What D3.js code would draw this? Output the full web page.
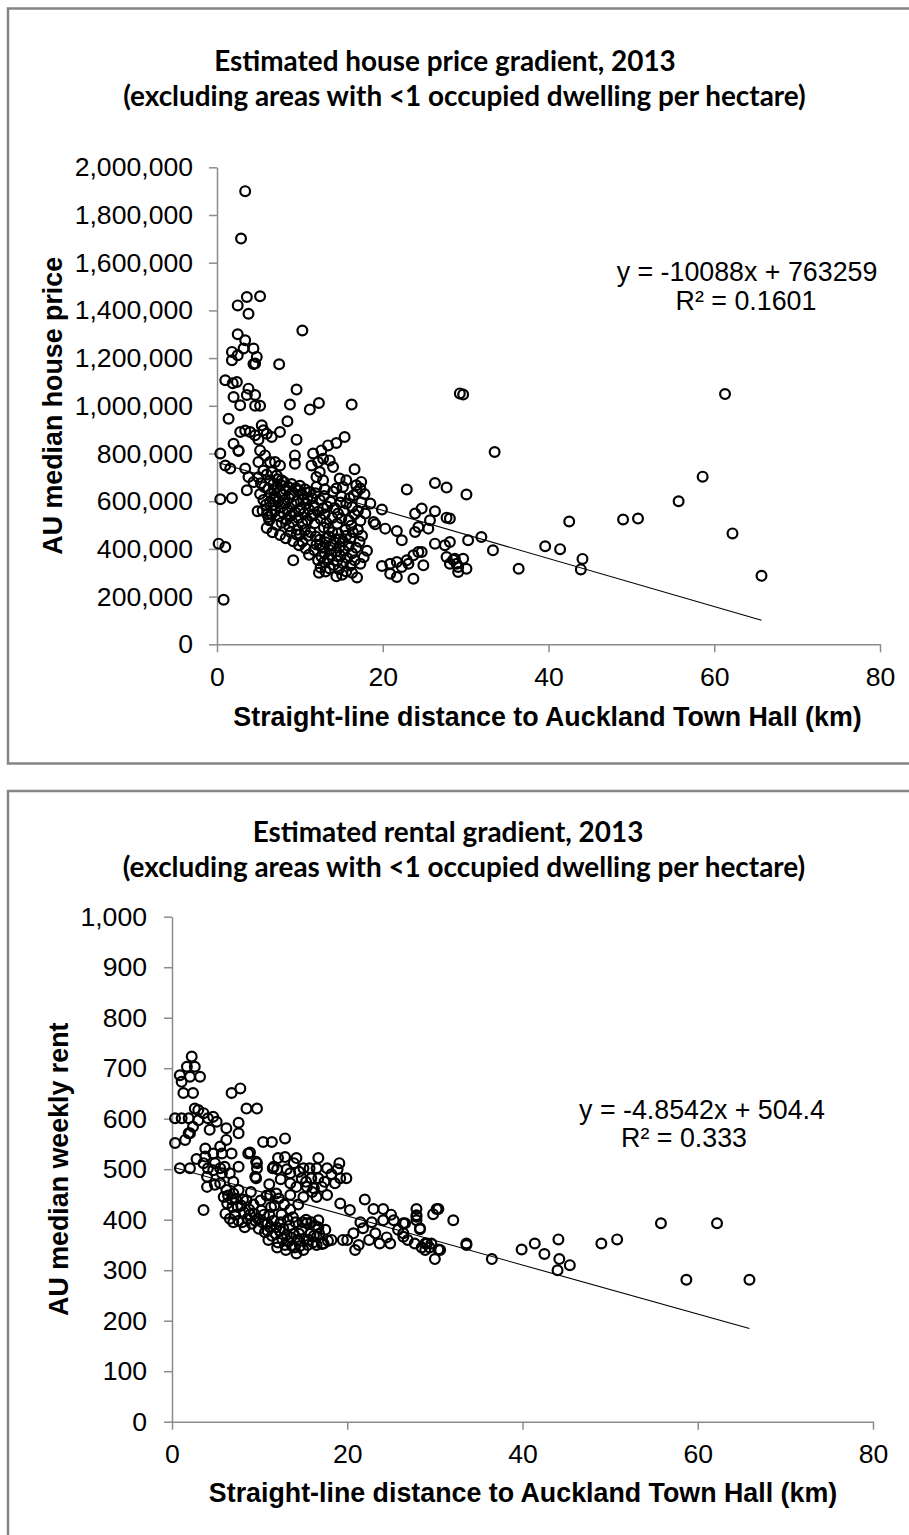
<!DOCTYPE html>
<html>
<head>
<meta charset="utf-8">
<script src="https://cdn.jsdelivr.net/npm/d3@7"></script>
<style>
  body { margin: 0; background: #fff; }
  text { font-family: Arial, "Liberation Sans", sans-serif; fill: #000; }
</style>
</head>
<body>
<script>
const W = 909, H = 1535;

// ---- data ----
// house price chart: [distance km, AU median price in $000]
const housePoints = [
  [3.4,1900],[2.9,1701],[3.6,1456],[5.2,1459],[2.5,1421],[3.8,1386],[2.5,1300],[3.4,1275],[1.8,1226],[4.4,1240],
  [3.2,1240],[2.5,1212],[1.8,1191],[4.8,1205],[4.6,1177],[4.4,1175],[7.5,1174],[1.0,1107],[2.4,1100],[1.9,1095],
  [3.8,1072],[2.0,1037],[3.6,1045],[4.6,1045],[9.6,1068],[2.8,1002],[4.6,1000],[5.2,1000],[8.8,1005],[10.3,1316],
  [11.2,984],[12.3,1012],[16.25,1005],[1.4,946],[0.4,800],[2.0,841],[2.6,813],[1.0,750],[1.6,737],[3.4,737],
  [3.8,701],[4.4,680],[3.6,646],[0.4,608],[1.8,613],[4.9,558],[0.2,422],[1.0,408],[0.8,187],[9.2,352],
  [2.8,890],[3.4,896],[4.0,890],[5.4,918],[5.6,897],[4.6,876],[5.0,858],[6.0,883],[6.6,869],[7.6,890],
  [8.5,935],[9.6,858],[15.4,869],[2.6,810],[5.2,813],[5.8,792],[6.4,764],[7.0,764],[7.6,750],[5.0,764],
  [5.6,729],[6.6,722],[7.2,708],[7.8,688],[9.4,792],[9.4,757],[11.6,800],[12.6,813],[13.4,834],[14.4,844],
  [11.4,750],[12.2,764],[12.8,778],[13.6,771],[14.0,743],[12.4,722],[12.8,688],[12.0,701],[16.6,734],[14.8,695],
  [15.6,688],[17.4,681],[17.3,653],[16.8,667],[15.2,660],[14.4,653],[6.2,534],[18.5,590],[19.9,565],[18.9,513],
  [19.1,503],[20.3,485],[21.7,475],[22.3,436],[22.9,649],[26.3,676],[27.7,657],[30.1,628],[33.5,806],[23.9,548],
  [24.7,569],[26.3,558],[25.7,520],[27.7,531],[24.3,492],[23.9,471],[25.5,485],[26.3,422],[27.5,415],[28.1,429],
  [30.3,436],[31.9,450],[33.3,394],[36.4,317],[39.6,411],[24.3,387],[24.7,387],[23.7,373],[19.9,328],[20.9,338],
  [21.7,345],[22.9,352],[23.1,338],[22.3,324],[20.9,296],[21.7,282],[23.7,275],[24.9,331],[27.7,366],[28.7,359],
  [29.7,359],[28.1,338],[29.1,324],[30.1,317],[29.1,303],[29.3,1052],[29.7,1047],[61.3,1049],[58.6,703],[55.7,600],
  [28.1,527],[42.5,515],[49.0,523],[50.8,527],[62.2,465],[41.4,399],[44.1,358],[43.9,314],[65.7,287],[28.5,354],
  [28.9,338],
  // dense cluster 5-18 km
  [6.2,652],[6.5,630],[6.9,645],[7.3,661],[7.1,618],[6.4,598],[6.8,584],[7.4,600],[7.9,628],[8.3,648],
  [8.7,612],[8.2,590],[7.7,575],[7.0,560],[6.6,545],[6.3,520],[7.5,537],[8.0,552],[8.5,566],[9.0,588],
  [9.3,625],[9.8,646],[10.2,630],[9.6,600],[10.4,606],[10.8,589],[10.1,570],[9.4,555],[8.9,540],[8.4,522],
  [7.8,510],[7.2,500],[9.1,512],[9.8,530],[10.5,548],[11.1,565],[11.5,612],[11.9,633],[12.4,605],[11.7,580],
  [12.2,556],[11.4,538],[10.9,520],[10.3,505],[11.8,508],[12.5,525],[13.0,545],[13.3,578],[13.7,598],[14.2,572],
  [14.6,548],[13.9,530],[13.2,510],[14.5,505],[15.0,528],[15.3,560],[15.6,590],[16.0,612],[16.3,575],[16.6,545],
  [15.9,520],[17.0,560],[17.4,595],[17.8,630],[16.9,640],[17.9,548],[17.3,518],[16.2,498],
  [11.3,470],[11.9,452],[12.4,438],[12.0,418],[12.7,405],[13.1,428],[13.5,452],[13.9,470],[14.3,440],[14.0,415],
  [13.6,395],[13.0,382],[12.6,368],[12.2,352],[12.9,345],[13.4,360],[13.8,375],[14.4,390],[14.8,410],[15.2,432],
  [15.6,455],[16.1,445],[15.9,412],[15.3,392],[14.9,370],[14.5,350],[14.1,332],[13.6,318],[13.1,305],[12.5,322],
  [14.7,315],[15.2,340],[15.7,362],[16.3,382],[16.8,405],[17.2,430],[16.6,352],[16.1,330],[15.6,305],[15.1,292],
  [14.4,285],[16.3,300],[16.9,280],[17.3,338],[17.7,365],[18.1,392],[12.3,300],[11.7,395],[11.1,375],[10.7,402],
  [10.3,430],[10.0,460],[9.7,480],[8.9,470],
  [6.0,488],[6.7,470],[7.6,458],[8.3,445],[9.2,432],[9.9,415],[8.7,495],[9.6,460],
  [5.0,700],[5.3,675],[5.7,660],[6.0,712],[6.4,688],[6.8,672],[7.3,692],[7.7,668],[8.1,680],[8.6,660],
  [9.0,672],[9.5,655],[10.0,665],[5.2,630],[5.6,605],[5.9,585],[5.5,560],[6.1,545],[6.8,610],[7.6,640],
  [8.9,630],[10.6,650],[11.2,640],[12.0,660],[13.0,650],[14.0,640],[15.0,620],[16.5,625],[10.9,610],[12.9,622],
  [14.9,595],[9.9,560],[12.8,570],[11.6,545],[13.5,485],[12.9,490],[10.6,478],[11.0,455],[14.6,465],[15.5,480],
  [16.4,470],[17.5,455],[17.0,480],[13.2,445],[12.4,415],[14.8,440]
];
const houseTrend = { slope: -10088, intercept: 763259, r2: "0.1601" }; // $ per km, $

// rent chart: [distance km, AU median weekly rent $]
const rentPoints = [
  [2.25,723],[1.7,703],[2.6,703],[0.9,686],[1.1,673],[2.05,683],[3.2,683],[1.3,651],[2.4,651],[6.8,651],
  [7.8,660],[8.5,620],[9.7,620],[0.35,601],[1.1,601],[1.9,601],[2.6,620],[3.0,617],[3.6,611],[4.1,601],
  [4.7,604],[2.4,584],[1.9,571],[3.0,597],[4.3,578],[5.1,594],[0.35,552],[1.5,558],[2.05,571],[7.6,592],
  [7.6,571],[6.2,581],[0.9,502],[2.05,502],[2.8,520],[3.6,512],[4.1,502],[4.9,512],[7.6,505],[8.7,531],
  [9.7,512],[9.5,485],[10.4,554],[11.4,554],[12.9,561],[11.6,505],[3.8,541],[3.8,525],[4.7,531],[5.5,545],
  [6.2,558],[5.7,531],[6.8,531],[4.0,485],[4.7,498],[5.5,502],[6.0,505],[5.7,492],[6.6,492],[7.0,475],
  [5.5,472],[4.9,469],[6.2,459],[7.0,452],[7.6,459],[4.0,465],[3.6,419],[8.9,533],[9.6,515],[9.7,502],
  [9.6,482],[11.5,502],[12.1,522],[12.9,524],[14.2,522],[16.7,522],[19.1,512],[15.0,502],[15.7,502],[16.5,502],
  [17.7,502],[13.5,492],[14.8,482],[15.9,482],[16.7,482],[18.6,472],[19.2,482],[19.9,482],[13.5,472],[14.2,465],
  [15.4,465],[16.2,462],[17.1,465],[17.7,449],[16.5,445],[15.0,445],[13.5,449],[11.9,452],[11.2,449],[19.2,432],
  [20.3,419],[22.0,440],[23.0,421],[24.1,421],[24.1,399],[25.3,399],[26.6,393],[27.9,421],[27.9,406],[29.8,411],
  [30.4,421],[28.3,383],[20.7,373],[21.8,383],[23.2,373],[23.7,353],[24.9,353],[26.4,373],[27.7,353],[29.1,353],
  [30.0,322],[30.6,340],[20.9,340],[19.5,360],[18.2,360],[17.3,353],[16.5,366],[15.4,393],[16.7,399],[14.2,333],
  [27.9,409],[27.9,399],[30.2,421],[32.1,399],[26.4,393],[26.4,366],[28.3,381],[28.9,353],[29.6,353],[30.4,341],
  [28.9,340],[33.6,353],[33.6,350],[36.5,322],[39.9,341],[41.4,353],[42.5,332],[44.1,361],[44.2,322],[45.4,310],
  [44.0,300],[49.0,353],[50.8,361],[55.8,393],[62.2,393],[58.7,281],[65.9,281],
  // dense cluster 5-18 km
  [5.9,445],[6.3,432],[6.1,412],[6.6,402],[6.9,425],[7.3,441],[7.2,410],[7.6,398],[7.9,428],[8.2,415],
  [8.0,395],[8.5,438],[8.8,420],[8.6,402],[9.1,392],[9.4,412],[9.3,430],[9.8,402],[9.9,382],[10.3,395],
  [10.2,418],[10.6,375],[10.9,392],[11.1,410],[11.4,368],[11.2,385],[11.8,372],[11.6,398],[12.1,355],[12.3,378],
  [12.6,362],[12.4,395],[12.9,350],[13.1,370],[13.4,388],[13.3,357],[13.7,348],[13.9,372],[14.1,395],[14.3,360],
  [14.6,348],[14.8,380],[15.1,362],[15.3,400],[15.5,350],[15.8,372],[16.1,355],[16.3,388],[16.8,372],[17.1,352],
  [17.5,380],[10.1,438],[10.8,448],[11.7,428],[12.2,442],[12.8,430],[13.5,420],[14.4,430],[9.0,455],[7.0,395],
  [8.3,385],[11.0,360],[12.0,345],[13.0,340],[14.0,345],[15.0,340],[16.5,350],
  [6.4,448],[6.8,440],[7.5,425],[8.1,440],[8.9,410],[9.5,398],[10.5,410],[11.3,425],[12.5,410],[13.2,400],
  [13.8,405],[14.9,395],[15.9,395],[16.7,385],[12.7,382],[11.9,385],[10.9,378],[13.6,365],[14.5,372],[15.6,360],
  [16.2,368],[17.8,358],[11.1,470],[12.4,480],[13.1,500],[14.5,495],[15.3,475],[16.0,455],[17.4,475],[18.2,490],
  [18.9,500],[13.9,512],[12.0,500],[21.3,350],[22.5,360],[24.5,365],[25.8,380],[26.9,360],[22.8,395],[25.0,410],
  [21.5,395],[28.5,345],[29.4,345],[20.0,360]
];
const rentTrend = { slope: -4.8542, intercept: 504.4, r2: "0.333" };

const xTicks = [0, 20, 40, 60, 80];
const houseYTicks = d3.range(0, 2000001, 200000);
const rentYTicks = d3.range(0, 1001, 100);

const xTitle = "Straight-line distance to Auckland Town Hall (km)";
const subTitle = "(excluding areas with <1 occupied dwelling per hectare)";

const svg = d3.select('body').append('svg')
  .attr('width', W).attr('height', H);
svg.append('rect').attr('width', W).attr('height', H).attr('fill', '#fff');

function drawChart(c) {
  const g = svg.append('g');

  // chart frame (runs off the right edge like the source)
  g.append('rect')
    .attr('x', 8).attr('y', c.frameTop)
    .attr('width', 960).attr('height', c.frameH)
    .attr('fill', 'none').attr('stroke', '#868686').attr('stroke-width', 2.5);

  const x = d3.scaleLinear().domain([0, 80]).range([c.left, c.right]);
  const y = d3.scaleLinear().domain([0, c.yMax]).range([c.bottom, c.top]);

  // titles
  const t1 = g.append('text').attr('x', c.t1x).attr('y', c.t1y)
    .attr('text-anchor', 'middle')
    .style('font-family', 'Lato, "Open Sans", sans-serif')
    .style('font-weight', 700).style('font-size', '24px')
    .text(c.title);
  const t2 = g.append('text').attr('x', c.t2x).attr('y', c.t2y)
    .attr('text-anchor', 'middle')
    .style('font-family', 'Lato, "Open Sans", sans-serif')
    .style('font-weight', 700).style('font-size', '24px')
    .text(subTitle);
  // size the title font so the subtitle spans the same width as in the source
  const fs = 24 * 683 / t2.node().getComputedTextLength();
  t1.style('font-size', fs + 'px');
  t2.style('font-size', fs + 'px');

  // axes
  const yAxis = g.append('g')
    .attr('transform', `translate(${c.left},0)`)
    .call(d3.axisLeft(y).tickValues(c.yTicks).tickFormat(d3.format(','))
      .tickSize(8).tickSizeOuter(0).tickPadding(c.yPad));
  const xAxis = g.append('g')
    .attr('transform', `translate(0,${c.bottom})`)
    .call(d3.axisBottom(x).tickValues(xTicks)
      .tickSize(8).tickSizeOuter(0).tickPadding(c.xPad));
  [xAxis, yAxis].forEach(a => {
    a.attr('font-family', null).attr('font-size', null);
    a.selectAll('path, line').attr('stroke', '#8c8c8c').attr('stroke-width', 1.5);
    a.selectAll('text').style('font-family', 'Arial, "Liberation Sans", sans-serif')
      .style('font-size', '26.6px').attr('fill', '#000');
  });

  // axis titles
  g.append('text')
    .attr('transform', `translate(${c.ytx},${(c.top + c.bottom) / 2}) rotate(-90)`)
    .attr('text-anchor', 'middle').attr('dy', '0.35em')
    .style('font-weight', 700).style('font-size', '26.8px')
    .text(c.yTitle);
  g.append('text')
    .attr('x', c.xtx).attr('y', c.xty)
    .attr('text-anchor', 'middle').attr('dy', '0.35em')
    .style('font-weight', 700).style('font-size', '26.8px')
    .text(xTitle);

  // trend line across the data's x range
  const xs = d3.extent(c.points, d => d[0]);
  const tr = xs.map(v => [v, (c.trend.slope * v + c.trend.intercept) / c.unit]);
  g.append('path')
    .attr('d', d3.line().x(d => x(d[0])).y(d => y(d[1] * c.unit))(tr))
    .attr('fill', 'none').attr('stroke', '#000').attr('stroke-width', 1.1);

  // points
  g.append('g').selectAll('circle')
    .data(c.points)
    .enter()
    .append('circle')
    .attr('cx', d => x(d[0]))
    .attr('cy', d => y(d[1] * c.unit))
    .attr('r', 4.9)
    .attr('fill', 'none')
    .attr('stroke', '#000')
    .attr('stroke-width', 2.2);

  // equation label
  g.append('text').attr('x', c.e1x).attr('y', c.e1y).attr('dy', '0.35em')
    .attr('text-anchor', 'middle').style('font-size', '26.8px')
    .text(c.eqText);
  g.append('text').attr('x', c.e2x).attr('y', c.e2y).attr('dy', '0.35em')
    .attr('text-anchor', 'middle').style('font-size', '26.8px')
    .text('R² = ' + c.trend.r2);
}

drawChart({
  frameTop: 8.5, frameH: 755,
  left: 217, right: 880, top: 167.3, bottom: 644.3,
  yMax: 2000000, yTicks: houseYTicks, unit: 1000,
  yPad: 16, xPad: 15,
  points: housePoints, trend: houseTrend,
  title: "Estimated house price gradient, 2013",
  t1x: 445, t1y: 71, t2x: 464.5, t2y: 106,
  yTitle: "AU median house price", ytx: 53,
  xtx: 547.5, xty: 717,
  eqText: "y = -10088x + 763259",
  e1x: 747, e1y: 272, e2x: 746, e2y: 301
});

drawChart({
  frameTop: 791, frameH: 760,
  left: 172, right: 873, top: 916.7, bottom: 1421.7,
  yMax: 1000, yTicks: rentYTicks, unit: 1,
  yPad: 17, xPad: 14,
  points: rentPoints, trend: rentTrend,
  title: "Estimated rental gradient, 2013",
  t1x: 448, t1y: 842, t2x: 464, t2y: 877,
  yTitle: "AU median weekly rent", ytx: 59,
  xtx: 523, xty: 1493,
  eqText: "y = -4.8542x + 504.4",
  e1x: 702, e1y: 1110, e2x: 684, e2y: 1138
});
</script>
</body>
</html>
